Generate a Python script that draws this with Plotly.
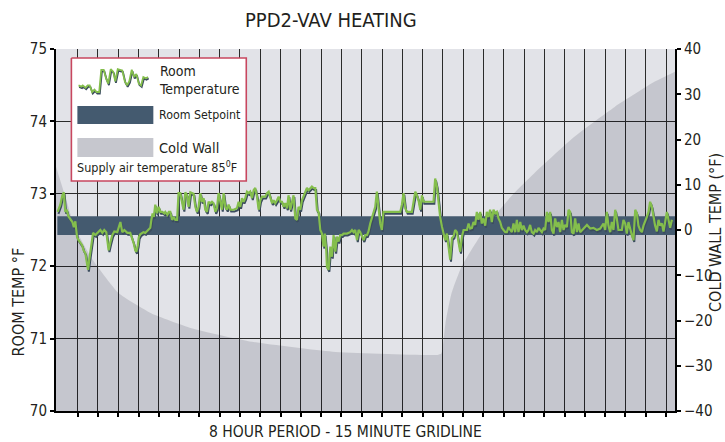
import plotly.graph_objects as go

# ---------------- data ----------------
minutes = [-14.8, -12.8, -11.3, -10.2, -9.1, -8.0, -6.9, -5.4, -3.9, -2.8, -1.7, -0.4, 0.7, 3.3, 4.4, 5.7, 6.9, 7.7,
           8.6, 9.4, 10.6, 11.4, 13.1, 14.6, 16.8, 18.3, 19.7, 21.2, 22.9, 24.2, 25.6, 27.1, 29.3, 31.6, 33.0, 34.5,
           36.7, 38.9, 40.2, 41.4, 42.6, 43.4, 44.5, 45.2, 46.3, 48.6, 50.0, 52.3, 53.7, 54.5, 55.4, 56.3, 57.4, 58.7,
           59.9, 61.1, 62.6, 64.1, 64.8, 66.3, 67.4, 68.5, 69.8, 71.0, 72.2, 73.5, 74.6, 75.9, 77.1, 78.3, 79.6, 80.9,
           82.0, 83.3, 84.5, 85.7, 87.0, 88.2, 89.4,
           90.7, 91.9, 93.1, 94.4, 95.6, 96.8, 98.1, 99.3, 100.5, 101.8, 103.0, 104.2, 105.5, 106.7, 107.9, 109.2,
           110.4, 111.6, 112.9, 115.3, 117.8, 119.0, 120.2, 121.5, 122.7, 123.9, 125.2, 126.4, 127.6, 128.9, 130.1,
           131.3, 132.6, 133.8, 135.0, 136.3, 138.7, 140.0, 141.2, 142.4, 143.7, 144.9, 146.1, 147.4, 148.6, 149.8,
           151.1, 152.3, 153.5, 154.8, 155.9, 157.2, 158.4, 159.6, 160.9, 162.1, 163.3, 164.6, 165.8, 167.0, 168.3,
           169.5, 170.7, 172.0, 173.2, 174.4, 175.7, 176.9, 178.1, 179.4, 180.6, 181.8, 182.7, 183.8, 184.3, 185.5,
           186.8, 188.0, 189.2, 190.5, 191.7, 192.9, 194.1, 195.4, 196.6, 199.1, 201.5, 202.8, 204.0, 205.2, 206.5,
           207.7,
           208.9, 211.4, 212.6, 213.9, 215.0, 216.3, 217.6, 218.8, 220.0, 221.2, 222.4, 223.7, 224.9, 226.1, 231.1,
           238.5, 239.7, 240.9, 242.2, 243.4, 247.1, 248.3, 249.6, 250.8, 252.0, 253.3, 254.5, 255.7, 257.0, 263.1,
           264.3, 265.6, 266.8, 268.0, 269.3, 270.5, 271.7, 273.0, 274.2, 275.4, 276.7, 277.9, 279.1, 280.4, 281.6,
           282.8, 284.1,
           285.3, 287.8, 289.0, 290.2, 291.5, 292.6, 293.9, 295.1, 296.3, 297.6, 298.8, 300.0, 301.3, 302.5, 303.7,
           304.9, 306.2, 307.4, 308.7, 309.9, 311.1, 312.4, 313.6, 314.8, 316.1, 317.3, 318.5, 319.8, 321.0, 322.2,
           323.5, 324.7, 325.9, 327.2, 328.4, 329.6, 330.8, 332.1, 333.3, 334.5, 335.8, 337.0, 338.2, 339.5, 340.7,
           341.9, 343.2, 344.4, 345.6, 346.9, 348.1, 349.3, 350.6, 351.8, 353.0, 354.3, 355.5, 356.7, 358.0, 359.2,
           360.4, 361.7, 362.9, 364.1, 365.4, 366.6, 367.8, 369.1, 370.3, 371.5, 374.0, 376.5, 378.9, 381.3, 383.8,
           386.3, 388.7, 390.0, 391.2, 392.4, 393.7, 394.9, 396.1, 397.4, 398.6, 399.8, 402.3, 403.5, 404.8, 406.0,
           407.2, 408.5, 409.7, 410.9, 412.2, 413.4, 414.6, 415.8, 417.1, 418.3, 419.5, 420.8, 422.0, 423.2, 424.5,
           425.7, 426.9, 428.2, 429.4, 430.6, 431.9, 433.1, 434.3, 435.6, 436.8, 438.0, 439.3]

room_temp = [72.75, 72.85, 72.98, 73.02, 72.75, 72.78, 72.69, 72.64, 72.61, 72.54, 72.62, 72.40, 72.36, 72.29, 72.22,
             72.18, 72.00, 71.95, 72.09, 72.22, 72.36, 72.46, 72.43, 72.46, 72.50, 72.46, 72.50, 72.47, 72.22, 72.33,
             72.43, 72.48, 72.47, 72.61, 72.47, 72.50, 72.46, 72.46, 72.39, 72.32, 72.22, 72.20, 72.29, 72.40, 72.44,
             72.47, 72.46, 72.50, 72.53, 72.64, 72.73, 72.68, 72.85, 72.73, 72.82, 72.75, 72.75, 72.73, 72.75, 72.71,
             72.75, 72.75, 72.64, 72.68, 72.64, 72.64, 73.01, 73.01, 72.87, 72.78, 73.02, 72.98, 72.82, 73.02, 73.01,
             73.00, 72.82, 72.75, 72.82,
             73.01, 72.89, 72.94, 72.78, 72.75, 72.89, 72.87, 72.89, 72.87, 72.75, 72.80, 73.01, 72.89, 72.78, 73.01,
             72.82, 72.78, 72.85, 72.78, 72.78, 72.80, 72.89, 72.82, 72.94, 72.89, 72.94, 73.03, 73.01, 73.03, 72.94,
             73.05, 73.08, 72.96, 72.78, 72.91, 72.96, 72.96, 73.01, 73.03, 72.96, 72.87, 72.91, 72.87, 72.91, 72.96,
             72.89, 72.89, 72.82, 72.87, 72.80, 72.98, 72.78, 72.91, 72.98, 72.66, 72.64, 72.82, 72.78, 72.91, 72.96,
             73.01, 73.08, 73.05, 73.08, 73.10, 73.08, 73.08, 72.78, 72.75, 72.50, 72.45, 72.27, 72.45, 72.22, 71.99,
             71.95, 72.27, 72.13, 72.43, 72.20, 72.41, 72.34, 72.43, 72.43, 72.45, 72.45, 72.47, 72.50, 72.47, 72.50,
             72.36, 72.50,
             72.47, 72.36, 72.43, 72.43, 72.48, 72.59, 72.66, 72.73, 72.82, 73.03, 72.78, 72.59, 72.50, 72.75, 72.75,
             72.75, 72.85, 73.01, 72.80, 72.75, 72.75, 72.91, 73.03, 72.98, 72.91, 72.78, 72.98, 72.89, 72.89, 72.89,
             73.21, 73.10, 72.89, 72.68, 72.55, 72.43, 72.36, 72.45, 72.22, 72.09, 72.39, 72.41, 72.50, 72.47, 72.33,
             72.20, 72.41,
             72.50, 72.50, 72.59, 72.52, 72.53, 72.61, 72.57, 72.75, 72.64, 72.75, 72.59, 72.66, 72.56, 72.75, 72.68,
             72.78, 72.61, 72.78, 72.73, 72.75, 72.66, 72.61, 72.53, 72.50, 72.47, 72.47, 72.54, 72.50, 72.47, 72.59,
             72.47, 72.64, 72.47, 72.61, 72.50, 72.56, 72.50, 72.47, 72.50, 72.57, 72.47, 72.45, 72.50, 72.47, 72.53,
             72.50, 72.47, 72.52, 72.50, 72.75, 72.61, 72.75, 72.50, 72.45, 72.66, 72.54, 72.61, 72.47, 72.64, 72.50,
             72.57, 72.54, 72.78, 72.75, 72.47, 72.45, 72.66, 72.47, 72.59, 72.47, 72.52, 72.57, 72.52, 72.53, 72.50,
             72.52, 72.59, 72.50, 72.75, 72.56, 72.47, 72.61, 72.50, 72.78, 72.66, 72.50, 72.50, 72.64, 72.59, 72.45,
             72.61, 72.50, 72.43, 72.36, 72.78, 72.73, 72.56, 72.50, 72.47, 72.56, 72.61, 72.68, 72.75, 72.89, 72.82,
             72.67, 72.56, 72.48, 72.64, 72.56, 72.59, 72.48, 72.64, 72.75, 72.64, 72.53, 72.64]

cold_wall_minutes = [-16.0, -8.3, -2.3, 9.6, 18.5, 30.4, 54.3, 84.1, 128.8, 188.4, 265.9, 268.9, 271.9, 276.4,
                     283.8, 295.7, 307.6, 322.5, 337.4, 367.2, 397.0, 426.7, 441.6]
cold_wall_temp = [14.0, 6.6, 0.7, -5.9, -9.6, -14.0, -18.4, -21.7, -24.7, -26.9, -27.6, -27.3, -20.6, -14.0,
                  -8.1, -2.2, 2.9, 8.1, 12.5, 20.6, 27.2, 32.8, 35.0]

setpoint_low = 72.43
setpoint_high = 72.69
setpoint_start = -15.0

x_range = [-16.0, 441.6]
grid_minutes = list(range(0, 436, 15))
room_range = [70, 75]
room_ticks = [70, 71, 72, 73, 74, 75]
wall_range = [-40, 40]
wall_ticks = [-40, -30, -20, -10, 0, 10, 20, 30, 40]

icon_window = (62.0, 100.0)

# ---------------- style ----------------
FONT = "Liberation Sans Narrow, Arial Narrow, DejaVu Sans Condensed, Roboto Condensed, Roboto, sans-serif"
PLOT_BG = "#e2e3e8"
WALL_FILL = "rgba(0,0,24,0.125)"   # translucent so gridlines stay visible through it
WALL_SWATCH = "#c6c7ce"
SETPOINT = "#445a6f"
GREEN = "#84be4c"
SHADOW = "#3b4c5e"
GRID = "#2b2b2b"
TXT = "#231f20"
BOX_LINE = "#c8475f"

shadow_dx = 0.6
shadow_dy = -0.026

fig = go.Figure()

# cold wall (primary y = right axis)
fig.add_trace(go.Scatter(x=[x_range[0], x_range[1]], y=[wall_range[0], wall_range[0]], mode="lines",
                         line=dict(width=0), hoverinfo="skip", showlegend=False, yaxis="y"))
fig.add_trace(go.Scatter(x=cold_wall_minutes, y=cold_wall_temp, mode="lines", fill="tonexty",
                         fillcolor=WALL_FILL, line=dict(width=0, shape="spline", smoothing=0.5),
                         hoverinfo="skip", showlegend=False, yaxis="y"))

# setpoint band (room axis)
fig.add_trace(go.Scatter(x=[setpoint_start, x_range[1], x_range[1], setpoint_start, setpoint_start],
                         y=[setpoint_low, setpoint_low, setpoint_high, setpoint_high, setpoint_low],
                         mode="lines", fill="toself", fillcolor=SETPOINT, line=dict(width=0),
                         hoverinfo="skip", showlegend=False, yaxis="y2"))

# room temperature with shadow
fig.add_trace(go.Scatter(x=[m + shadow_dx for m in minutes], y=[t + shadow_dy for t in room_temp],
                         mode="lines", line=dict(color=SHADOW, width=2), hoverinfo="skip",
                         showlegend=False, yaxis="y2"))
fig.add_trace(go.Scatter(x=minutes, y=room_temp, mode="lines", line=dict(color=GREEN, width=2.2),
                         showlegend=False, yaxis="y2"))

# ---------------- legend panel (own inset frame, in panel units) ----------------
panel_x = [69, 248]
panel_y = [183, 56]
fig.add_trace(go.Scatter(x=[71, 246, 246, 71, 71], y=[58, 58, 181, 181, 58], mode="lines", fill="toself",
                         fillcolor="white", line=dict(color=BOX_LINE, width=1.6), hoverinfo="skip",
                         showlegend=False, xaxis="x3", yaxis="y3"))
fig.add_trace(go.Scatter(x=[77, 153, 153, 77, 77], y=[106, 106, 124, 124, 106], mode="lines", fill="toself",
                         fillcolor=SETPOINT, line=dict(width=0), hoverinfo="skip",
                         showlegend=False, xaxis="x3", yaxis="y3"))
fig.add_trace(go.Scatter(x=[77, 153, 153, 77, 77], y=[138, 138, 157, 157, 138], mode="lines", fill="toself",
                         fillcolor=WALL_SWATCH, line=dict(width=0), hoverinfo="skip",
                         showlegend=False, xaxis="x3", yaxis="y3"))

# legend icon (slice of the room temperature series)
icon_x = [m for m in minutes if icon_window[0] <= m <= icon_window[1]]
icon_y = [t for m, t in zip(minutes, room_temp) if icon_window[0] <= m <= icon_window[1]]
fig.add_trace(go.Scatter(x=[m + 0.35 for m in icon_x], y=[t - 0.025 for t in icon_y], mode="lines",
                         line=dict(color=SHADOW, width=1.8), hoverinfo="skip", showlegend=False,
                         xaxis="x4", yaxis="y4"))
fig.add_trace(go.Scatter(x=icon_x, y=icon_y, mode="lines", line=dict(color=GREEN, width=1.8),
                         hoverinfo="skip", showlegend=False, xaxis="x4", yaxis="y4"))

# ---------------- layout ----------------
def px_x(p):
    return (p - 55.6) / 619.4

def px_y(p):
    return (411 - p) / 362.0

annotations = [
    dict(text="PPD2-VAV HEATING", x=px_x(331), y=px_y(20), xref="paper", yref="paper", showarrow=False,
         font=dict(family=FONT, size=20, color=TXT), xanchor="center", yanchor="middle"),
    dict(text="8 HOUR PERIOD - 15 MINUTE GRIDLINE", x=px_x(345), y=px_y(432), xref="paper", yref="paper",
         showarrow=False, font=dict(family=FONT, size=15.5, color=TXT), xanchor="center", yanchor="middle"),
    dict(text="ROOM TEMP °F", x=px_x(18), y=px_y(302), xref="paper", yref="paper", showarrow=False,
         textangle=-90, font=dict(family=FONT, size=16, color=TXT), xanchor="center", yanchor="middle"),
    dict(text="COLD WALL TEMP (°F)", x=px_x(715), y=px_y(232), xref="paper", yref="paper", showarrow=False,
         textangle=-90, font=dict(family=FONT, size=16, color=TXT), xanchor="center", yanchor="middle"),
    dict(text="Room<br>Temperature", x=px_x(157), y=px_y(80), xref="paper", yref="paper", showarrow=False,
         align="left", font=dict(family=FONT, size=14, color=TXT), xanchor="left", yanchor="middle"),
    dict(text="Room Setpoint", x=px_x(157), y=px_y(115), xref="paper", yref="paper", showarrow=False,
         font=dict(family=FONT, size=12.3, color=TXT), xanchor="left", yanchor="middle"),
    dict(text="Cold Wall", x=px_x(157), y=px_y(148), xref="paper", yref="paper", showarrow=False,
         font=dict(family=FONT, size=14.5, color=TXT), xanchor="left", yanchor="middle"),
    dict(text="Supply air temperature 85<sup>0</sup>F", x=px_x(75), y=px_y(167), xref="paper", yref="paper",
         showarrow=False, font=dict(family=FONT, size=12.5, color=TXT), xanchor="left", yanchor="middle"),
]

# plot background drawn below the gridlines (so the inset frames stay transparent)
shapes = [dict(type="rect", xref="paper", yref="paper", x0=0, x1=1, y0=0, y1=1,
               fillcolor=PLOT_BG, line=dict(width=0), layer="below")]

fig.update_layout(
    width=725, height=442,
    margin=dict(l=55.6, r=50, t=49, b=31),
    paper_bgcolor="white",
    plot_bgcolor="rgba(0,0,0,0)",
    showlegend=False,
    font=dict(family=FONT, color=TXT, size=15),
    xaxis=dict(domain=[0, 1], range=x_range, tickmode="array", tickvals=grid_minutes, showticklabels=False,
               ticks="outside", ticklen=4, tickwidth=1.5, tickcolor="black",
               showgrid=True, gridcolor=GRID, gridwidth=1.2, zeroline=False,
               showline=True, linecolor="black", linewidth=2, anchor="y"),
    yaxis=dict(domain=[0, 1], range=wall_range, tickmode="array", tickvals=wall_ticks, side="right",
               ticks="outside", ticklen=4, tickwidth=1.5, tickcolor="black", showgrid=False, zeroline=False,
               showline=True, linecolor="black", linewidth=2, tickfont=dict(size=15), anchor="x"),
    yaxis2=dict(range=room_range, tickmode="array", tickvals=room_ticks, side="left", overlaying="y",
                ticks="outside", ticklen=4, tickwidth=1.5, tickcolor="black",
                showgrid=True, gridcolor=GRID, gridwidth=1.2, zeroline=False,
                showline=True, linecolor="black", linewidth=2, tickfont=dict(size=15), anchor="x"),
    xaxis3=dict(domain=[px_x(panel_x[0]), px_x(panel_x[1])], range=panel_x, visible=False,
                anchor="y3", fixedrange=True),
    yaxis3=dict(domain=[px_y(panel_y[0]), px_y(panel_y[1])], range=panel_y, visible=False,
                anchor="x3", fixedrange=True),
    xaxis4=dict(domain=[px_x(77), px_x(150)], range=[icon_window[0], icon_window[1] + 0.5], visible=False,
                anchor="y4", fixedrange=True),
    yaxis4=dict(domain=[px_y(95), px_y(68)], range=[min(icon_y) - 0.05, max(icon_y) + 0.02], visible=False,
                anchor="x4", fixedrange=True),
    shapes=shapes,
    annotations=annotations,
)

fig.write_html("out.html", config={"displayModeBar": False},
               post_script="document.body.style.margin='0';document.body.style.padding='0';"
                           "document.body.style.overflow='hidden';")
